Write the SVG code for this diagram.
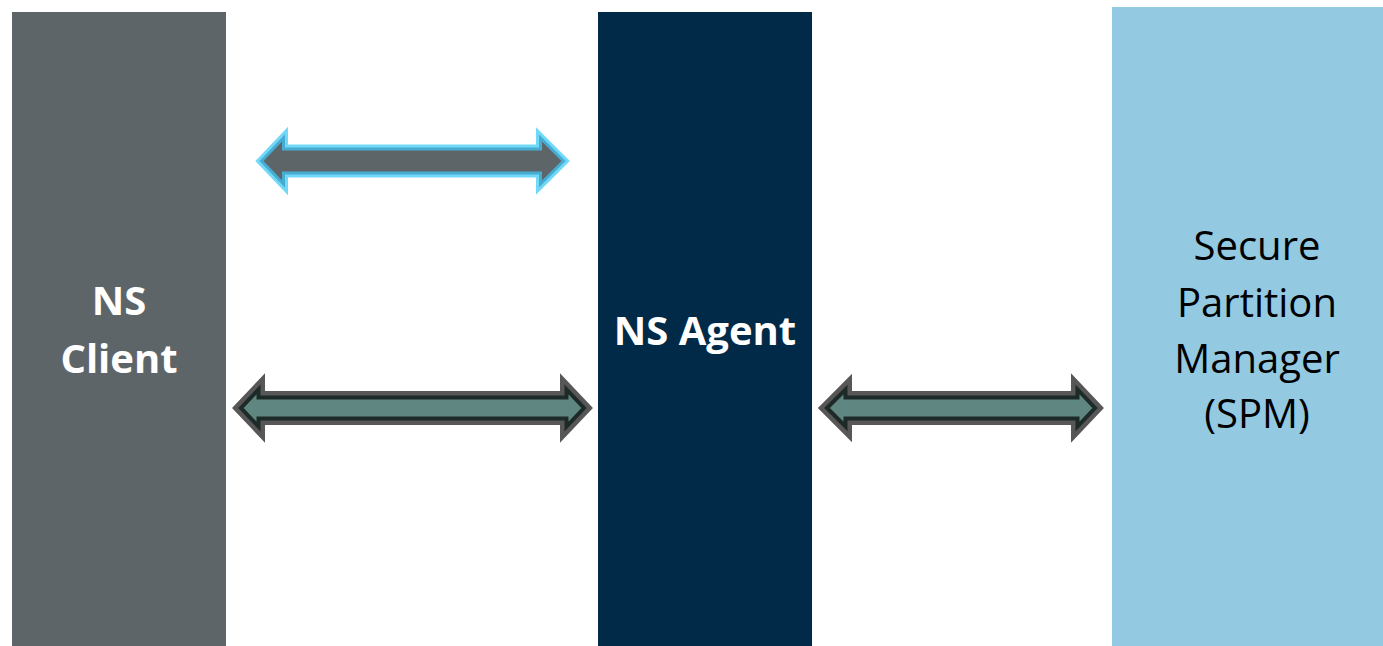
<svg xmlns="http://www.w3.org/2000/svg" width="1383" height="646" viewBox="0 0 1383 646">
<style>
.lbl{font-family:"Open Sans","Liberation Sans",sans-serif;font-size:40px;text-anchor:middle}
.b{font-weight:bold;fill:#ffffff}
.r{fill:#000000}
.a1o{fill:none;stroke:#71d9f7;stroke-width:9;stroke-linejoin:miter;stroke-miterlimit:10}
.a1i{fill:#5e6568;stroke:#47acd1;stroke-width:3;stroke-linejoin:miter;stroke-miterlimit:10}
.a2o{fill:none;stroke:#575757;stroke-width:13;stroke-linejoin:miter;stroke-miterlimit:10}
.a2i{fill:#5f8681;stroke:#1e2a28;stroke-width:4;stroke-linejoin:miter;stroke-miterlimit:10}
</style>
<rect width="1383" height="646" fill="#ffffff"/>
<g id="ns-client">
<rect x="12" y="12" width="214" height="634" fill="#5e6568"/>
<text class="lbl b" x="119" y="315">NS</text>
<text class="lbl b" x="119" y="373">Client</text>
</g>
<g id="ns-agent">
<rect x="598" y="12" width="214" height="634" fill="#002a48"/>
<text class="lbl b" x="705" y="345">NS Agent</text>
</g>
<g id="spm">
<rect x="1112" y="7" width="271" height="639" fill="#93c9e1"/>
<text class="lbl r" x="1257" y="260">Secure</text>
<text class="lbl r" x="1257" y="317">Partition</text>
<text class="lbl r" x="1257" y="373">Manager</text>
<text class="lbl r" x="1257" y="428">(SPM)</text>
</g>
<g id="connectors">
<path class="a1o" d="M261.5,161 L283.5,138 L283.5,149 L540.5,149 L540.5,138 L563.5,161 L540.5,184 L540.5,173 L283.5,173 L283.5,184 Z"/>
<path class="a1i" d="M261.5,161 L283.5,138 L283.5,149 L540.5,149 L540.5,138 L563.5,161 L540.5,184 L540.5,173 L283.5,173 L283.5,184 Z"/>
<path class="a2o" d="M241,408 L258.5,389.5 L258.5,397.5 L566.5,397.5 L566.5,389.5 L584,408 L566.5,426.5 L566.5,418.5 L258.5,418.5 L258.5,426.5 Z"/>
<path class="a2i" d="M241,408 L258.5,389.5 L258.5,397.5 L566.5,397.5 L566.5,389.5 L584,408 L566.5,426.5 L566.5,418.5 L258.5,418.5 L258.5,426.5 Z"/>
<path class="a2o" d="M827,408 L845.5,389.5 L845.5,397.5 L1077.5,397.5 L1077.5,389.5 L1095,408 L1077.5,426.5 L1077.5,418.5 L845.5,418.5 L845.5,426.5 Z"/>
<path class="a2i" d="M827,408 L845.5,389.5 L845.5,397.5 L1077.5,397.5 L1077.5,389.5 L1095,408 L1077.5,426.5 L1077.5,418.5 L845.5,418.5 L845.5,426.5 Z"/>
</g>
</svg>
